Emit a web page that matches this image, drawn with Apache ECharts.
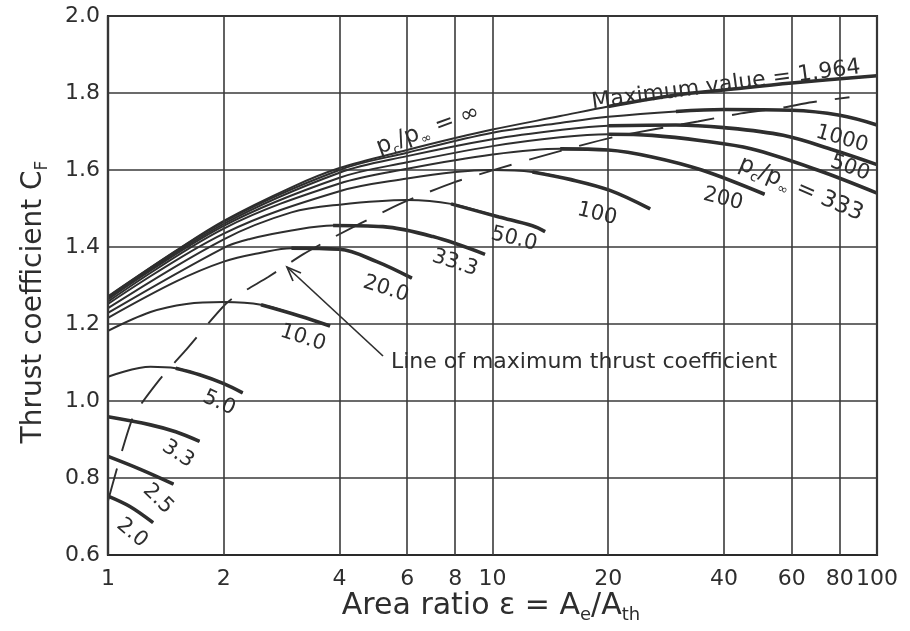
<!DOCTYPE html>
<html><head><meta charset="utf-8">
<script src="https://cdn.jsdelivr.net/npm/echarts@6/dist/echarts.min.js"></script>
<style>html,body{margin:0;padding:0;background:#fff}#c{width:910px;height:631px}</style>
</head><body><div id="c"></div>
<script>
// ---- data ----
const xTicks = [1, 2, 4, 6, 8, 10, 20, 40, 60, 80, 100];
const yMin = 0.6, yMax = 2.0, yStep = 0.2;

const cfInf  = [[1,1.272],[1.5,1.39],[2,1.468],[3,1.555],[4,1.605],[6,1.652],[8,1.683],[10,1.705],[15,1.74],[20,1.765],[30,1.795],[40,1.808],[60,1.826],[100,1.845]];
const cf1000 = [[1,1.27],[2,1.465],[4,1.6],[6,1.645],[10,1.697],[15,1.722],[20,1.738],[30,1.752],[40,1.757],[60,1.755],[80,1.742],[100,1.717]];
const cf500  = [[1,1.268],[2,1.46],[4,1.593],[6,1.636],[10,1.68],[15,1.704],[20,1.715],[30,1.717],[40,1.71],[57,1.69],[77,1.652],[100,1.614]];
const cf333  = [[1,1.264],[2,1.455],[4,1.58],[6,1.62],[10,1.662],[15,1.685],[20,1.693],[26,1.69],[35,1.676],[47,1.655],[70,1.6],[100,1.54]];
const cf200  = [[1,1.258],[2,1.448],[4,1.565],[6,1.603],[10,1.64],[15,1.655],[20,1.652],[26,1.634],[35,1.6],[51,1.537]];
const cf100  = [[1,1.252],[2,1.435],[4,1.545],[6,1.578],[8,1.595],[10,1.6],[12.7,1.595],[16,1.575],[20.2,1.547],[25.7,1.499]];
const cf50   = [[1,1.241],[2,1.42],[3,1.49],[4,1.51],[6,1.522],[7.8,1.512],[10.4,1.478],[12.7,1.455],[13.7,1.44]];
const cf33_3 = [[1,1.229],[2,1.398],[2.34,1.421],[3,1.443],[3.85,1.456],[5.19,1.453],[7,1.427],[9.56,1.381]];
const cf20   = [[1,1.216],[1.5,1.31],[2,1.362],[2.5,1.385],[3,1.397],[4,1.394],[5,1.362],[6.17,1.319]];
const cf10   = [[1,1.182],[1.29,1.231],[1.6,1.252],[2,1.257],[2.5,1.25],[3.15,1.221],[3.78,1.195]];
const cf5    = [[1,1.063],[1.29,1.089],[1.5,1.085],[1.73,1.068],[2.0,1.045],[2.24,1.021]];
const cf3_3  = [[1,0.959],[1.29,0.938],[1.5,0.92],[1.73,0.895]];
const cf2_5  = [[1,0.856],[1.21,0.823],[1.48,0.784]];
const cf2_0  = [[1,0.753],[1.14,0.726],[1.31,0.684]];
const maxLine = [[1.0,0.74],[1.16,0.957],[1.36,1.055],[1.6,1.134],[2.05,1.257],[2.61,1.322],[3.23,1.382],[3.89,1.427],[5.32,1.496],[6.09,1.523],[7.94,1.568],[10.3,1.603],[14.1,1.642],[21,1.687],[34.2,1.726],[44.3,1.747],[56,1.761],[67.6,1.776],[84.8,1.789]];

// ---- styling ----
const INK = '#2e2e2e';
const FONT = 'DejaVu Sans';
const curves = [
  {d: cfInf,  t: 9}, {d: cf1000, t: 7}, {d: cf500, t: 6}, {d: cf333, t: 6},
  {d: cf200, t: 5}, {d: cf100, t: 6}, {d: cf50, t: 5}, {d: cf33_3, t: 4},
  {d: cf20, t: 4}, {d: cf10, t: 4}, {d: cf5, t: 2}, {d: cf3_3, t: 0},
  {d: cf2_5, t: 0}, {d: cf2_0, t: 0}
];
const series = [];
series.push({
  type: 'line', data: [[1, yMin]], symbol: 'none', z: 1, lineStyle: {opacity: 0},
  silent: true,
  markLine: {
    silent: true, symbol: 'none', animation: false,
    lineStyle: {color: '#3a3a3a', width: 1.6, type: 'solid'},
    label: {show: true, position: 'start', distance: 13, color: INK, fontFamily: FONT, fontSize: 22,
      formatter: p => String(p.value)},
    data: xTicks.map(v => ({xAxis: v}))
  }
});
curves.forEach(c => {
  series.push({type: 'line', data: c.d, smooth: 0.35, symbol: 'none', z: 3, animation: false,
    lineStyle: {color: INK, width: 2}});
  series.push({type: 'line', data: c.d.slice(c.t), smooth: 0.35, symbol: 'none', z: 4, animation: false,
    lineStyle: {color: INK, width: 3.6}});
});
series.push({type: 'line', data: maxLine, smooth: 0.2, symbol: 'none', z: 3, animation: false,
  lineStyle: {color: INK, width: 1.9, type: [34, 18]}});

function txt(x, y, text, deg, size, rich) {
  return {type: 'text', x: x, y: y, rotation: deg * Math.PI / 180, z: 10,
    style: {text: text, fill: INK, fontFamily: FONT, fontSize: size,
      textAlign: 'center', textVerticalAlign: 'middle', align: 'center', verticalAlign: 'middle',
      rich: rich || {}}};
}
const subRich = (n, s) => ({n: {fontSize: n, lineHeight: n + 6, fontFamily: FONT, fill: INK, color: INK},
  s: {fontSize: s, lineHeight: s, verticalAlign: 'bottom', fontFamily: FONT, fill: INK, color: INK}});

const graphics = [
  txt(132, 533, '2.0', -40, 21),
  txt(158, 499, '2.5', -44, 21),
  txt(178, 454, '3.3', -33, 21),
  txt(219, 403, '5.0', -25, 21),
  txt(303, 338, '10.0', -18, 21),
  txt(386, 289, '20.0', -18, 21),
  txt(455, 263, '33.3', -18, 21),
  txt(514, 239, '50.0', -14, 21),
  txt(597, 214, '100', -14, 21),
  txt(723, 199, '200', -14, 21),
  txt(842, 139, '1000', -16, 21),
  txt(850, 168, '500', -20, 21),
  txt(801, 189, '{n|p}{s|c}{n|/p}{s|∞}{n| = 333}', -23, 22, subRich(23, 13)),
  txt(428, 130, '{n|p}{s|c}{n|/p}{s|∞}{n| = ∞}', 20, 22, subRich(23, 13)),
  txt(726, 85, 'Maximum value = 1.964', 7.5, 22),
  txt(584, 362, 'Line of maximum thrust coefficient', 0, 22),
  {type: 'line', z: 10, shape: {x1: 383, y1: 356, x2: 287, y2: 267}, style: {stroke: INK, lineWidth: 1.7}},
  {type: 'polyline', z: 10, shape: {points: [[293, 281], [287, 267], [301, 273]]}, style: {stroke: INK, lineWidth: 1.7, fill: null}},
  txt(34, 302, '{n|Thrust coefficient C}{s|F}', 90, 27, subRich(28, 17)),
  txt(491, 606, '{n|Area ratio ε = A}{s|e}{n|/A}{s|th}', 0, 30, subRich(30, 18))
];

const chart = echarts.init(document.getElementById('c'), null, {renderer: 'canvas'});
chart.setOption({
  animation: false,
  backgroundColor: '#ffffff',
  grid: {left: 108, right: 33, top: 16, bottom: 76, show: true, borderColor: '#2a2a2a', borderWidth: 2.2, backgroundColor: 'transparent'},
  xAxis: {type: 'log', logBase: 10, min: 1, max: 100,
    axisLine: {show: true, lineStyle: {color: '#2a2a2a', width: 2.2}},
    axisTick: {show: false}, axisLabel: {show: false}, splitLine: {show: false}, minorSplitLine: {show: false}},
  yAxis: {type: 'value', min: yMin, max: yMax, interval: yStep,
    axisLine: {show: true, lineStyle: {color: '#2a2a2a', width: 2.2}},
    axisTick: {show: false},
    axisLabel: {color: INK, fontFamily: FONT, fontSize: 22, margin: 8, formatter: v => v.toFixed(1)},
    splitLine: {show: true, lineStyle: {color: '#3a3a3a', width: 1.6}}},
  series: series,
  graphic: graphics
});
</script></body></html>
